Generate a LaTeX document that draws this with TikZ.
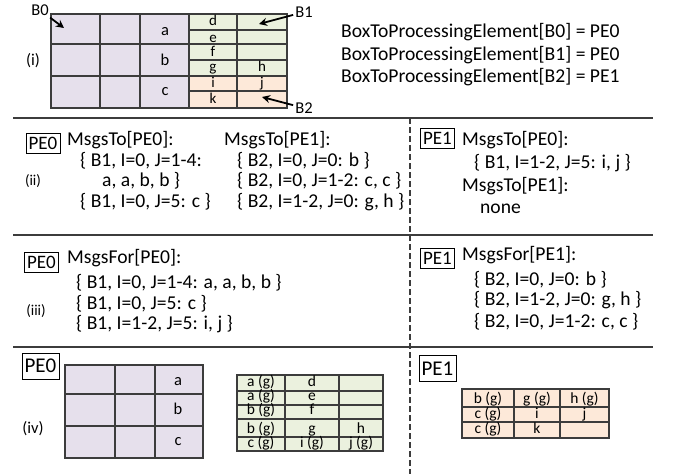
\documentclass[tikz,border=0pt]{standalone}
\usepackage{fontspec}
\setmainfont{Carlito}
\usepackage{tikz}
\usetikzlibrary{arrows.meta,positioning}
\definecolor{lavend}{RGB}{230,224,236}
\definecolor{palegreen}{RGB}{235,241,222}
\definecolor{peach}{RGB}{253,233,217}
\definecolor{inkgray}{RGB}{60,60,60}

\begin{document}
\begin{tikzpicture}[x=1pt, y=-1pt,
 txt/.style={anchor=base west, inner sep=0pt, font=\fontsize{19.6}{22}\selectfont},
 tag/.style={inner sep=0pt, font=\fontsize{16.5}{18}\selectfont},
 pebox/.style={draw, inner xsep=2.5pt, inner ysep=0pt, minimum height=20pt, font=\fontsize{19}{21}\selectfont},
 bigpe/.style={pebox, minimum height=26pt, font=\fontsize{21}{23}\selectfont},
 cell/.style={anchor=base, inner sep=0pt, font=\fontsize{16.5}{17}\selectfont},
 small/.style={anchor=base, inner sep=0pt, font=\fontsize{15.5}{16}\selectfont},
 grid/.style={draw=inkgray, line width=1.3pt},
 sep/.style={draw=inkgray, line width=1.2pt},
 arr/.style={-{Stealth[length=8pt,width=8pt]}, line width=1.8pt}]
\useasboundingbox (0,0) rectangle (681,474);

% (i) boxes B0, B1, B2
\fill[lavend] (51,14) rectangle (189,108);
\fill[palegreen] (189,14) rectangle (287,76);
\fill[peach] (189,76) rectangle (287,108);
\draw[grid] (51,14) rectangle (287,108);
\foreach \x in {100,140,189,237} \draw[grid] (\x,14) -- (\x,108);
\foreach \y in {44,76} \draw[grid] (51,\y) -- (287,\y);
\foreach \y in {30,60,91} \draw[grid] (189,\y) -- (287,\y);
\foreach \t/\x/\y [count=\i] in {a/165/35, b/165/65, c/165/95}
  \node[cell] (top\i) at (\x,\y) {\t};
\foreach \t/\x/\y [count=\i] in {d/213/25, e/213/42, f/213/56, g/213/71, h/262/71, i/213/87, j/262/87, k/213/103}
  \node[small, font=\fontsize{15}{16}\selectfont] (topr\i) at (\x,\y) {\t};

\node[tag] (lbl1) at (33,61) {(i)};
\node[inner sep=2pt, font=\fontsize{16.5}{18}\selectfont] (b0) at (40,10) {B0};
\node[inner sep=2pt, font=\fontsize{16.5}{18}\selectfont] (b1) at (304,12) {B1};
\node[inner sep=2pt, font=\fontsize{16.5}{18}\selectfont] (b2) at (304,108) {B2};
\coordinate (b0tip) at (64,28);
\coordinate (b1tip) at (259,24);
\coordinate (b2tip) at (262,97);
\draw[arr] (b0) -- (b0tip);
\draw[arr] (b1) -- (b1tip);
\draw[arr] (b2) -- (b2tip);

\node[txt] (map0) at (341,37) {BoxToProcessingElement[B0] = PE0};
\node[txt] (map1) at (341,60) {BoxToProcessingElement[B1] = PE0};
\node[txt] (map2) at (341,82) {BoxToProcessingElement[B2] = PE1};

% separators
\draw[sep] (13,118) -- (653,118);
\draw[sep] (13,235) -- (653,235);
\draw[sep] (13,347) -- (653,347);
\draw[inkgray, line width=1.1pt, dash pattern=on 6pt off 3pt] (410,118) -- (410,474);

% (ii) MsgsTo
\node[tag, font=\fontsize{15}{17}\selectfont] (lbl2) at (33,181) {(ii)};
\node[pebox] (pe0a) at (43,143) {PE0};
\node[txt] (to00) at (67,145) {MsgsTo[PE0]:};
\node[txt] (to01) at (80,166) {\{ B1, I=0, J=1-4:};
\node[txt] (to02) at (102,186) {a, a, b, b \}};
\node[txt] (to03) at (80,207) {\{ B1, I=0, J=5: c \}};
\node[txt] (to10) at (224,145) {MsgsTo[PE1]:};
\node[txt] (to11) at (237,166) {\{ B2, I=0, J=0: b \}};
\node[txt] (to12) at (237,186) {\{ B2, I=0, J=1-2: c, c \}};
\node[txt] (to13) at (237,207) {\{ B2, I=1-2, J=0: g, h \}};

\node[pebox] (pe1a) at (437.5,138) {PE1};
\node[txt] (pto00) at (462,145) {MsgsTo[PE0]:};
\node[txt] (pto01) at (474,168) {\{ B1, I=1-2, J=5: i, j \}};
\node[txt] (pto10) at (462,191) {MsgsTo[PE1]:};
\node[txt] (pto11) at (480,213) {none};

% (iii) MsgsFor
\node[tag, font=\fontsize{15}{17}\selectfont] (lbl3) at (36,311) {(iii)};
\node[pebox] (pe0b) at (41.5,262.5) {PE0};
\node[txt] (for00) at (67,263) {MsgsFor[PE0]:};
\node[txt] (for01) at (76,288) {\{ B1, I=0, J=1-4: a, a, b, b \}};
\node[txt] (for02) at (76,309) {\{ B1, I=0, J=5: c \}};
\node[txt] (for03) at (76,329) {\{ B1, I=1-2, J=5: i, j \}};

\node[pebox] (pe1b) at (437.5,258) {PE1};
\node[txt] (for10) at (462,260) {MsgsFor[PE1]:};
\node[txt] (for11) at (474,285) {\{ B2, I=0, J=0: b \}};
\node[txt] (for12) at (474,305) {\{ B2, I=1-2, J=0: g, h \}};
\node[txt] (for13) at (474,327) {\{ B2, I=0, J=1-2: c, c \}};

% (iv) local boxes with ghosts
\node[tag] (lbl4) at (33,429) {(iv)};
\node[bigpe] (pe0c) at (40.5,366) {PE0};
\fill[lavend] (65,365) rectangle (203,458);
\draw[grid] (65,365) rectangle (203,458);
\foreach \x in {115,155} \draw[grid] (\x,365) -- (\x,458);
\foreach \y in {394,426} \draw[grid] (65,\y) -- (203,\y);
\foreach \t/\y [count=\i] in {a/385, b/414, c/445}
  \node[cell] (loc\i) at (178,\y) {\t};

\fill[palegreen] (237,375) rectangle (383,451);
\draw[grid] (237,375) rectangle (383,451);
\foreach \x in {285,339} \draw[grid] (\x,375) -- (\x,451);
\foreach \y in {391,405,419,437} \draw[grid] (237,\y) -- (383,\y);
\foreach \t/\x/\y [count=\i] in {{a (g)}/261/386, d/312/386, {a (g)}/261/400, e/312/400,
  {b (g)}/261/414, f/312/414, {b (g)}/261/433, g/312/433, h/361/433,
  {c (g)}/261/447, {i (g)}/312/447, {j (g)}/361/447}
  \node[small] (gh\i) at (\x,\y) {\t};

\node[bigpe] (pe1c) at (437.5,368.5) {PE1};
\fill[peach] (462,389) rectangle (609,438);
\draw[grid] (462,389) rectangle (609,438);
\foreach \x in {514,560} \draw[grid] (\x,389) -- (\x,438);
\foreach \y in {407,422} \draw[grid] (462,\y) -- (609,\y);
\foreach \t/\x/\y [count=\i] in {{b (g)}/488/403, {g (g)}/537/403, {h (g)}/584.5/403,
  {c (g)}/488/418, i/537/418, j/584.5/418, {c (g)}/488/433, k/537/433}
  \node[small] (pgh\i) at (\x,\y) {\t};
\end{tikzpicture}
\end{document}
